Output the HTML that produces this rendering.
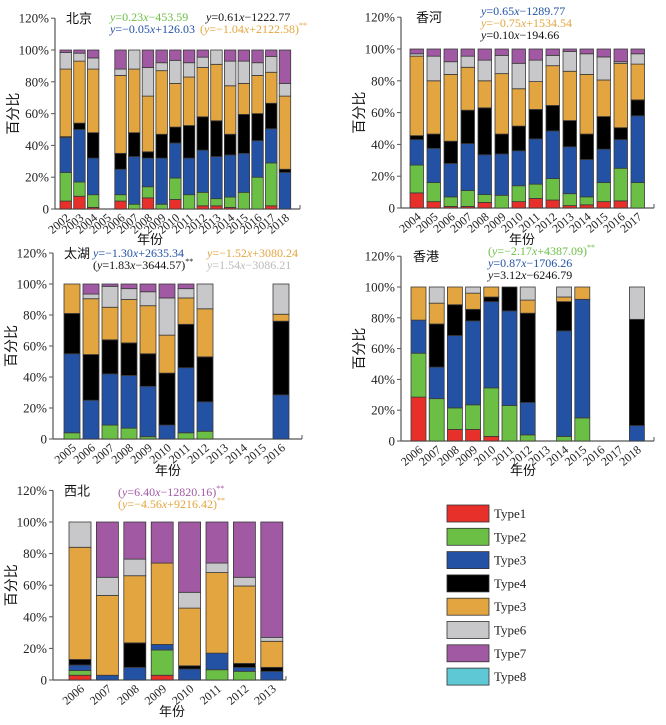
<!DOCTYPE html>
<html><head><meta charset="utf-8">
<style>
body{margin:0;background:#fff;width:666px;height:725px;overflow:hidden}
svg{position:absolute;left:0;top:0}
text{font-family:"Liberation Serif","Noto Serif CJK SC",serif}
.cn{font-family:"Liberation Sans","Noto Sans CJK SC",sans-serif}
</style></head>
<body>
<svg id="chart" width="666" height="725" viewBox="0 0 666 725"></svg>
<script>
const typeNames = ["Type1","Type2","Type3","Type4","Type3","Type6","Type7","Type8"];
const colors = ["#e8302a","#6cbf45","#2352a5","#000000","#e3a53f","#c8c8ca","#a259a4","#5ec8d5"];
const yTicks = ["0","20%","40%","60%","80%","100%","120%"];

const bjYears = [2002,2003,2004,2005,2006,2007,2008,2009,2010,2011,2012,2013,2014,2015,2016,2017,2018];
const bjShares = [
 [5,18,22,0.5,42.5,10.5,1.5],[8,9,33,4,39,5,2],[1,8,23,16,40,7,5],null,
 [5,4,16,10,49,4,12],[0,3,30,15,40,12,0],[7,7,18,4,35,18,11],[0,3,29,15,40,5,8],
 [6,13.5,22,10,27.5,14.5,6.5],[0,9,23,20.5,30.5,9,8],[2,8.5,26.5,21,31,6.5,4.5],
 [2,4.5,26.5,22.5,35.5,9,0],[1,6.5,26.5,13,30.5,15.5,7],[0,10.5,24.5,24.5,19.5,14,7],
 [0,20,23,17,24,8,8],[2,27,21.5,16,19.5,10,4],[0,0,23,2,46,8,21]];

const xhYears = [2004,2005,2006,2007,2008,2009,2010,2011,2012,2013,2014,2015,2016,2017];
const xhShares = [
 [9.5,17.5,16,2.5,50,1.5,3],[4,12,21.5,9,33.5,15.5,4.5],[1,6,21,14,42,8,8],
 [1,10,29.5,21,27,7,4.5],[3.5,5,25,29.5,17,13,7],[0,8,26,12.5,38,11.5,4],
 [4,10,22,15.5,23.5,16,9],[6,9,28.5,18.5,17.5,13.5,7],[5,13.5,30,16,25,6.5,4],
 [1.5,7.5,29.5,16.5,31,12.5,1.5],[2,5,23.5,16,37.5,13,3],[4,12,21,20.5,23,14.5,5],
 [4.5,20.5,18,7.5,40.5,1,8],[0,16,42,10,22.5,6.5,3]];

const thYears = [2005,2006,2007,2008,2009,2010,2011,2012,2013,2014,2015,2016];
const thShares = [
 [0,4,51,26,19,0,0],[0,0,25,29.5,36,3,6.5],[0,9,33,22,21,13.5,1.5],[0,7,34,21,28,7,3],
 [0,1.5,32.5,21,31,9,5],[0,0,9,33.5,24.5,24,9],[0,4,42,28,17,6,3],[0,5,19,29,31,16,0],
 null,null,null,[0,0,28.5,47.5,4.5,19.5,0]];

const hkYears = [2006,2007,2008,2009,2010,2011,2012,2013,2014,2015,2016,2017,2018];
const hkShares = [
 [28.5,28.5,21.5,0,21.5,0,0],[0,27.5,20.5,28,13.5,10.5,0],[7.5,14,47,20,11.5,0,0],
 [7.5,16,54.5,7.5,10.5,4,0],[3,31.5,56,3,6.5,0,0],[0,23,61.5,15.5,0,0,0],
 [0,4,21,58,8.5,8.5,0],null,[0,3,68.5,19,3,6.5,0],[0,15,77,0,8,0,0],null,null,
 [0,0,10,69,0,21,0]];

const nwYears = [2006,2007,2008,2009,2010,2011,2012,2013];
const nwShares = [
 [3,3,3.5,3.5,71,16,0],[0,0,3,0,50.5,11.5,35],[0,0,8,15.5,42.5,10.5,23.5],
 [3,16,3.5,0,51.5,0,26],[0,0,7,2,36.5,10,44.5],[0,6.5,10.5,0,51,6,26],
 [0,5.5,2.5,2.5,49,5.5,35],[0,0,5.5,2.5,16.5,2.5,73]];

const NS="http://www.w3.org/2000/svg";
const svg=document.getElementById('chart');
function mk(tag,attrs,parent,txt){const e=document.createElementNS(NS,tag);for(const k in attrs)e.setAttribute(k,attrs[k]);if(txt!==undefined)e.textContent=txt;(parent||svg).appendChild(e);return e;}

function panel(cfg){
  const g=mk('g',{});
  
  
  const yS=v=>cfg.y0+(cfg.y100-cfg.y0)*v/100;
  const xS=i=>cfg.bx0+i*cfg.pitch;
  // y axis
  const ax=mk('line',{x1:cfg.ax,y1:yS(120),x2:cfg.ax,y2:yS(0),stroke:'#555','stroke-width':1.2},g);
  
  const xa=mk('line',{x1:cfg.ax,y1:yS(0),x2:cfg.axEnd,y2:yS(0),stroke:'#555','stroke-width':1.2},g);
  
  mk('line',{x1:cfg.axEnd,y1:yS(0),x2:cfg.axEnd,y2:yS(0)-4,stroke:'#555','stroke-width':1},g);
  yTicks.forEach((t,i)=>{
    const y=yS(i*20);
    mk('line',{x1:cfg.ax-4,y1:y,x2:cfg.ax,y2:y,stroke:'#555','stroke-width':1},g);
    const tl=mk('text',{x:cfg.ax-6,y:y+4.5,'text-anchor':'end','font-size':13,fill:'#222'},g,t);
    
  });
  cfg.years.forEach((yr,i)=>{
    const cx=xS(i)+cfg.bw/2;
    const lb=mk('text',{x:cx+5,y:yS(0)+10,'text-anchor':'end','font-size':12,fill:'#222',transform:`rotate(-40 ${cx+5} ${yS(0)+10})`},g,yr);
    
    const s=cfg.shares[i]; if(!s) return;
    let acc=0;
    s.forEach((v,k)=>{
      if(v<=0) return;
      const r=mk('rect',{x:xS(i),y:yS(acc+v),width:cfg.bw,height:yS(acc)-yS(acc+v),fill:colors[k],stroke:'#3a3a3a','stroke-width':0.8},g);
      
      
      acc+=v;
    });
  });
  const ti=mk('text',{x:cfg.titleX,y:yS(120)+5,'font-size':13,'class':'cn',fill:'#111'},g,cfg.title);
  
  const yl=mk('text',{x:0,y:0,'font-size':14,'class':'cn',fill:'#111','text-anchor':'middle',transform:`translate(${cfg.ax-37} ${yS(60)}) rotate(-90)`},g,'百分比');
  
  const xl=mk('text',{x:cfg.xlX,y:cfg.xlY,'font-size':13,'class':'cn',fill:'#111','text-anchor':'middle'},g,'年份');
  
  cfg.eqs.forEach(e=>{
    const t=mk('text',{x:e[0],y:e[1],'font-size':12,fill:e[2]},g);
    t.innerHTML=e[3];
    
    
  });
}
const I=s=>s.replace(/y/,'<tspan font-style="italic">y</tspan>').replace(/(\d)x/g,'$1<tspan font-style="italic">x</tspan>');
const SS='<tspan font-size="8" dy="-5">**</tspan>';
panel({name:'beijing',title:'北京',titleX:66,years:bjYears,shares:bjShares,y0:209,y100:50,ax:55,axEnd:300,bx0:60,pitch:13.7,bw:11.5,xlX:150,xlY:244,
 eqs:[[110,21,'#6cbf45',I('y=0.23x−453.59')],[110,33,'#2352a5',I('y=−0.05x+126.03')],[206,21,'#111',I('y=0.61x−1222.77')],[200,33,'#e3a53f','('+I('y=−1.04x+2122.58')+')'+SS]]});
panel({name:'xianghe',title:'香河',titleX:416,years:xhYears,shares:xhShares,y0:208,y100:49,ax:401,axEnd:654,bx0:410,pitch:17,bw:13.5,xlX:522,xlY:244,
 eqs:[[481,15,'#2352a5',I('y=0.65x−1289.77')],[481,27,'#e3a53f',I('y=−0.75x+1534.54')],[481,39,'#111',I('y=0.10x−194.66')]]});
panel({name:'taihu',title:'太湖',titleX:64,years:thYears,shares:thShares,y0:439,y100:284,ax:53,axEnd:302,bx0:64,pitch:19,bw:16,xlX:168,xlY:475,
 eqs:[[93,257,'#2352a5',I('y=−1.30x+2635.34')],[93,269,'#111','('+I('y=1.83x−3644.57')+')'+SS],[207,257,'#e3a53f',I('y=−1.52x+3080.24')],[207,269,'#bbb',I('y=1.54x−3086.21')]]});
panel({name:'hongkong',title:'香港',titleX:413,years:hkYears,shares:hkShares,y0:441,y100:287,ax:401,axEnd:654,bx0:411,pitch:18.2,bw:15,xlX:523,xlY:475,
 eqs:[[488,255,'#6cbf45','('+I('y=−2.17x+4387.09')+')'+SS],[488,267,'#2352a5',I('y=0.87x−1706.26')],[488,279,'#111',I('y=3.12x−6246.79')]]});
panel({name:'xibei',title:'西北',titleX:64,years:nwYears,shares:nwShares,y0:680,y100:522,ax:53,axEnd:286,bx0:69,pitch:27.4,bw:22,xlX:172,xlY:716,
 eqs:[[118,496,'#a259a4','('+I('y=6.40x−12820.16')+')'+SS],[118,508,'#e3a53f','('+I('y=−4.56x+9216.42')+')'+SS]]});

// legend
const lg=mk('g',{});


typeNames.forEach((n,i)=>{
  const y=505+i*23.3;
  const r=mk('rect',{x:447,y:y,width:42,height:17,fill:colors[i],stroke:'#333','stroke-width':0.8},lg);
  
  
  const t=mk('text',{x:494,y:y+13,'font-size':13,fill:'#222'},lg,n);
  
  
});
</script>
</body></html>
